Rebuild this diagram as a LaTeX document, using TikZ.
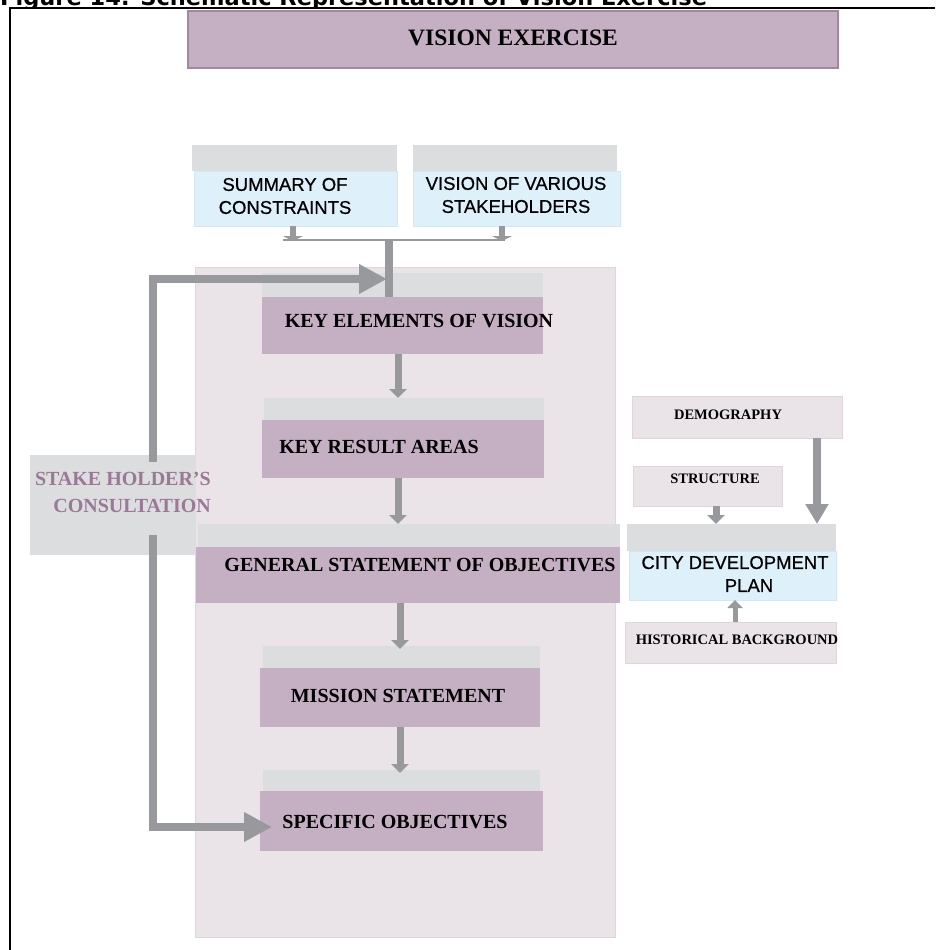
\documentclass[tikz,border=0pt]{standalone}
\usepackage{fontspec}
\setmainfont{Liberation Serif}
\newfontfamily\arialfont[FakeBold=0.6]{Liberation Sans}
\newfontfamily\titlefont{DejaVu Sans}
\usetikzlibrary{arrows.meta,calc}

\definecolor{mauve}{HTML}{C5AFC2}
\definecolor{mauveedge}{HTML}{A3879F}
\definecolor{panelpink}{HTML}{EAE4E9}
\definecolor{paneledge}{HTML}{DDD7DC}
\definecolor{headgray}{HTML}{DCDDDF}
\definecolor{paleblue}{HTML}{DEF0FA}
\definecolor{blueedge}{HTML}{D2E8F5}
\definecolor{arrowgray}{HTML}{98999C}
\definecolor{plumtext}{HTML}{9A7896}

\tikzset{
  boxbase/.style={inner sep=0pt, outer sep=0pt},
  header/.style={boxbase, fill=headgray},
  purplebody/.style={boxbase, fill=mauve},
  bluebody/.style={boxbase, fill=paleblue, draw=blueedge},
  pinkbox/.style={boxbase, fill=panelpink, draw=paneledge, line width=1pt},
  maintext/.style={inner sep=0pt, font=\fontsize{20}{24}\selectfont\bfseries},
  smalltext/.style={inner sep=0pt, font=\fontsize{14.5}{17}\selectfont\bfseries},
  sanstext/.style={inner sep=0pt, align=center, font=\arialfont\fontsize{18.5}{23}\selectfont},
  flow/.style={draw=arrowgray, line width=7pt, -{Triangle[width=17pt,length=9pt]}},
  bigflow/.style={draw=arrowgray, line width=8pt, -{Triangle[width=28pt,length=28pt]}},
  feed/.style={draw=arrowgray, line width=2.5pt},
  stub/.style={draw=arrowgray, line width=6pt, -{Triangle[width=20pt,length=5pt]}},
}

\begin{document}
\begin{tikzpicture}[x=1pt,y=-1pt]
\useasboundingbox (0,0) rectangle (935,950);

% caption line, running off the top edge of the page
\begin{scope}
  \clip (0,0) rectangle (935,7);
  \node[anchor=base west, inner sep=0pt, font=\titlefont\bfseries\fontsize{22.5}{24}\selectfont]
    (caption) at (0,6) {Figure 14: Schematic Representation of Vision Exercise};
\end{scope}

% frame
\draw[line width=2.5pt] (10,950) -- (10,7.8) -- (935,7.8);

% title bar
\node[boxbase, fill=mauve, draw=mauveedge, line width=1.5pt,
      minimum width=650pt, minimum height=57pt] (vision) at (513,39.5) {};
\node[inner sep=0pt, font=\fontsize{23.5}{26}\selectfont\bfseries] (visionT) at (513,38) {VISION EXERCISE};

% inputs at the top
\node[header, minimum width=205pt, minimum height=26pt] (sumH) at (294.5,158) {};
\node[bluebody, minimum width=203pt, minimum height=55pt] (sumB) at (295.5,198.5) {};
\node[sanstext] (sumT) at (285,196) {SUMMARY OF\\CONSTRAINTS};

\node[header, minimum width=204pt, minimum height=26pt] (visH) at (515,158) {};
\node[bluebody, minimum width=207pt, minimum height=55pt] (visB) at (516.5,198.5) {};
\node[sanstext] (visT) at (516,195) {VISION OF VARIOUS\\STAKEHOLDERS};

% shaded panel holding the main sequence
\node[pinkbox, minimum width=420pt, minimum height=670pt] (panel) at (405,602) {};

% main sequence
\node[header, minimum width=281pt, minimum height=24pt] (kevH) at (402.5,285) {};
\node[purplebody, minimum width=281pt, minimum height=57pt] (kevB) at (402.5,325.5) {};
\node[maintext] (kevT) at (419,321) {KEY ELEMENTS OF VISION};

\node[header, minimum width=280pt, minimum height=22pt] (kraH) at (404,409) {};
\node[purplebody, minimum width=282pt, minimum height=58pt] (kraB) at (403,449) {};
\node[maintext] (kraT) at (379,447) {KEY RESULT AREAS};

\node[header, minimum width=422pt, minimum height=23pt] (gsoH) at (409,535.5) {};
\node[purplebody, minimum width=424pt, minimum height=56pt] (gsoB) at (408,575) {};
\node[maintext] (gsoT) at (420,565) {GENERAL STATEMENT OF OBJECTIVES};

\node[header, minimum width=277pt, minimum height=22pt] (msH) at (401.5,657) {};
\node[purplebody, minimum width=280pt, minimum height=59pt] (msB) at (400,697.5) {};
\node[maintext] (msT) at (398,696) {MISSION STATEMENT};

\node[header, minimum width=277pt, minimum height=21pt] (soH) at (401.5,780.5) {};
\node[purplebody, minimum width=283pt, minimum height=60pt] (soB) at (401.5,821) {};
\node[maintext] (soT) at (395,822) {SPECIFIC OBJECTIVES};

% stakeholder consultation
\node[header, minimum width=166pt, minimum height=100pt] (cons) at (113,505) {};
\node[inner sep=0pt, align=right, anchor=east, text=plumtext,
      font=\fontsize{20}{27}\selectfont\bfseries] (consT) at (211,492) {STAKE HOLDER'S\\CONSULTATION};

% right-hand group
\node[pinkbox, minimum width=210pt, minimum height=42pt] (demo) at (737,417) {};
\node[smalltext] (demoT) at (728,415) {DEMOGRAPHY};
\node[pinkbox, minimum width=149pt, minimum height=40pt] (stru) at (707.5,486) {};
\node[smalltext] (struT) at (715,479) {STRUCTURE};
\node[header, minimum width=209pt, minimum height=27pt] (cdpH) at (731.5,537.5) {};
\node[bluebody, minimum width=207pt, minimum height=49pt] (cdpB) at (732.5,575.5) {};
\node[sanstext] (cdpT) at (735,574) {CITY DEVELOPMENT\\\hspace*{28pt}PLAN};
\node[pinkbox, minimum width=211pt, minimum height=41pt] (hist) at (730.5,642.5) {};
\node[smalltext] (histT) at (737,640) {HISTORICAL BACKGROUND};

% merging the two inputs
\coordinate (sumOut) at ($(sumB.south)+(-2.5,0)$);
\coordinate (visOut) at ($(visB.south)+(-14.5,0)$);
\coordinate (mergeL) at ($(sumOut)+(-10,14)$);
\coordinate (mergeR) at ($(visOut)+(3,14)$);
\draw[feed] (mergeL) -- (mergeR);
\draw[stub] (sumOut) -- ($(sumOut)+(0,15)$);
\draw[stub] (visOut) -- ($(visOut)+(0,15)$);
\coordinate (merge) at (389,240);
\draw[draw=arrowgray, line width=8pt] (merge) -- (merge |- kevB.north);

% feedback loop from the consultation
\coordinate (consUp) at ($(cons.north)+(40,7)$);
\coordinate (consDown) at ($(cons.south)+(40,-20)$);
\draw[bigflow] (consUp) |- (387,279);
\draw[bigflow] (consDown) |- ($(soB.west)+(12,6)$);

% main sequence arrows
\coordinate (a1) at ($(kevB.south)+(-4.5,0)$);
\draw[flow] (a1) -- (a1 |- kraH.north);
\coordinate (a2) at ($(kraB.south)+(-5,0)$);
\draw[flow] (a2) -- (a2 |- gsoH.north);
\coordinate (a3) at ($(gsoB.south)+(-8,0)$);
\draw[flow] (a3) -- ($(a3 |- msH.north)+(0,3)$);
\coordinate (a4) at ($(msB.south)+(0,0)$);
\draw[flow] (a4) -- ($(a4 |- soH.north)+(0,3)$);

% right-hand arrows
\coordinate (d1) at ($(demo.south)+(80,0)$);
\draw[draw=arrowgray, line width=8pt, -{Triangle[width=22pt,length=20pt]}] (d1) -- (d1 |- cdpH.north);
\coordinate (s1) at ($(stru.south)+(8.5,0)$);
\draw[flow] (s1) -- (s1 |- cdpH.north);
\coordinate (h1) at ($(hist.north)+(4.5,0)$);
\draw[draw=arrowgray, line width=5pt, -{Triangle[width=15pt,length=8pt]}] (h1) -- (h1 |- cdpB.south);

\end{tikzpicture}
\end{document}
